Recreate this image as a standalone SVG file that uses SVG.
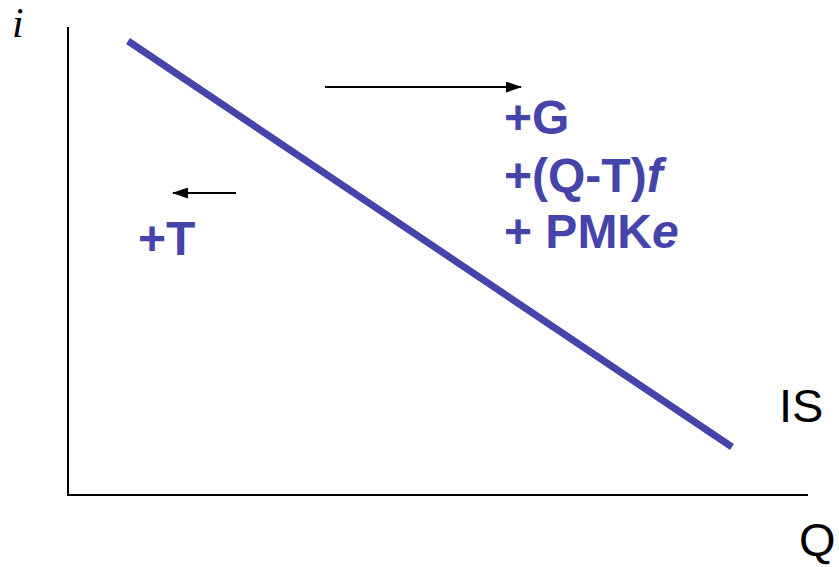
<svg xmlns="http://www.w3.org/2000/svg" width="839" height="567" viewBox="0 0 839 567">
<defs>
<style>
.ax{stroke:#000;stroke-width:2;fill:none}
.arr{stroke:#000;stroke-width:2;fill:none}
.lbl{font-family:"Liberation Sans",Arial,sans-serif;font-weight:bold;font-size:48px;fill:#4444AA}
.blk{font-family:"Liberation Sans",Arial,sans-serif;font-size:47px;fill:#000}
</style>
<marker id="ah" markerWidth="16" markerHeight="11" refX="15" refY="5.5" orient="auto" markerUnits="userSpaceOnUse">
<path d="M0,0 L16,5.5 L0,11 Z" fill="#000"/>
</marker>
</defs>
<g id="axes">
<line class="ax" x1="68" y1="27" x2="68" y2="495"/>
<line class="ax" x1="67" y1="495" x2="808" y2="495"/>
<text x="12" y="37" font-family="Liberation Serif,serif" font-style="italic" font-size="42">i</text>
<text class="blk" x="799" y="556">Q</text>
</g>
<g id="IS">
<line x1="128" y1="41" x2="732" y2="447" stroke="#4444AA" stroke-width="7"/>
<text class="blk" x="779" y="422">IS</text>
</g>
<g id="connectors">
<line class="arr" x1="325" y1="87" x2="521" y2="87" marker-end="url(#ah)"/>
<line class="arr" x1="236" y1="193" x2="173" y2="193" marker-end="url(#ah)"/>
</g>
<g id="right-label">
<text class="lbl" x="504" y="134">+G</text>
<text class="lbl" x="504" y="192">+(Q-T)<tspan font-style="italic">f</tspan></text>
<text class="lbl" x="504" y="248">+ PMK<tspan font-style="italic">e</tspan></text>
</g>
<g id="left-label">
<text class="lbl" x="138" y="255">+T</text>
</g>
</svg>
